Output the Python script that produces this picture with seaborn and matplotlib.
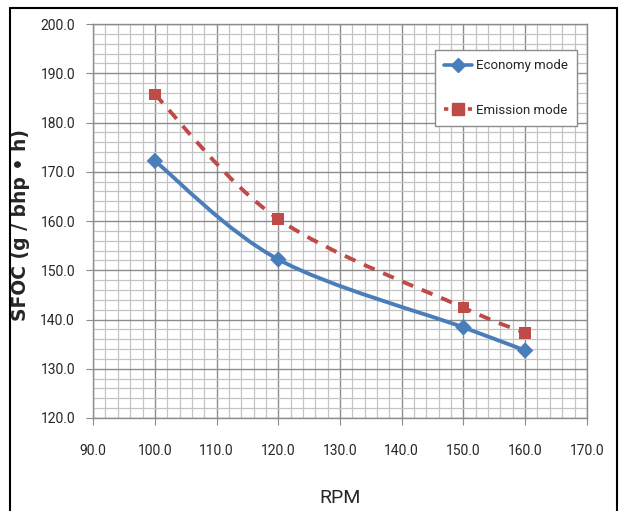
import numpy as np
import pandas as pd
import seaborn as sns
import matplotlib.pyplot as plt
from matplotlib.path import Path
from matplotlib.patches import PathPatch
from matplotlib.lines import Line2D
from matplotlib.ticker import MultipleLocator

rpm = [100, 120, 150, 160]
economy = [172.2, 152.2, 138.4, 133.7]
emission = [185.7, 160.4, 142.4, 137.3]
series_names = ["Economy mode", "Emission mode"]

BLUE = "#4a7ebb"
RED = "#be4b48"


def smooth_path(xs, ys):
    """Excel-style smoothed line: Catmull-Rom segments as cubic beziers."""
    pts = np.column_stack([xs, ys]).astype(float)
    ext = np.vstack([pts[0], pts, pts[-1]])
    verts = [tuple(pts[0])]
    codes = [Path.MOVETO]
    for i in range(1, len(ext) - 2):
        p0, p1, p2, p3 = ext[i - 1], ext[i], ext[i + 1], ext[i + 2]
        c1 = p1 + (p2 - p0) / 6
        c2 = p2 - (p3 - p1) / 6
        verts += [tuple(c1), tuple(c2), tuple(p2)]
        codes += [Path.CURVE4] * 3
    return Path(verts, codes)


df = pd.DataFrame({
    "RPM": rpm * 2,
    "SFOC": economy + emission,
    "mode": [series_names[0]] * len(rpm) + [series_names[1]] * len(rpm),
})

sns.set_style("white")
plt.rcParams["font.family"] = ["Roboto", "DejaVu Sans"]

fig = plt.figure(figsize=(6.21, 5.11), dpi=100)
ax = fig.add_axes([0.150, 0.182, 0.795, 0.771])

# smoothed lines
ax.add_patch(PathPatch(smooth_path(rpm, economy), facecolor="none",
                       edgecolor=BLUE, lw=2.8, zorder=3))
ax.add_patch(PathPatch(smooth_path(rpm, emission), facecolor="none",
                       edgecolor=RED, lw=2.8, linestyle=(0, (3, 2.4)), zorder=3))

# markers
sns.scatterplot(data=df, x="RPM", y="SFOC", hue="mode", style="mode",
                palette=[BLUE, RED], markers=["D", "s"], s=70,
                edgecolor="none", legend=False, ax=ax, zorder=4)

ax.set_xlim(90, 170)
ax.set_ylim(120, 200)
ax.xaxis.set_major_locator(MultipleLocator(10))
ax.yaxis.set_major_locator(MultipleLocator(10))
ax.xaxis.set_minor_locator(MultipleLocator(2))
ax.yaxis.set_minor_locator(MultipleLocator(2))
ax.xaxis.set_major_formatter(lambda v, p: f"{v:.1f}")
ax.yaxis.set_major_formatter(lambda v, p: f"{v:.1f}")
ax.grid(which="major", color="#8c8c8c", lw=1.0)
ax.grid(which="minor", color="#c4c4c4", lw=0.9)
ax.set_axisbelow(True)
for s in ax.spines.values():
    s.set_color("#8c8c8c")
    s.set_linewidth(1.0)

ax.tick_params(axis="x", which="major", direction="out", length=5,
               color="#8c8c8c", pad=14, labelsize=10, bottom=True)
ax.tick_params(axis="y", which="major", direction="out", length=5,
               color="#8c8c8c", pad=8, labelsize=10, left=True)
ax.tick_params(which="minor", length=0)

ax.set_xlabel("RPM", fontsize=14, labelpad=22)
ax.set_ylabel("SFOC (g / bhp • h)", fontsize=13.5, fontweight="bold",
              family=["DejaVu Sans"])
ax.yaxis.set_label_coords(-0.128, 0.49)

handles = [
    Line2D([], [], color=BLUE, lw=2.6, marker="D", markersize=7),
    Line2D([], [], color=RED, lw=2.6, linestyle=(0, (1.2, 1)), marker="s",
           markersize=8),
]
leg = ax.legend(handles, series_names, loc="upper right",
                bbox_to_anchor=(0.98, 0.934), fontsize=9.5, frameon=True,
                fancybox=False, edgecolor="#8c8c8c", framealpha=1,
                labelspacing=2.4, borderpad=0.7, borderaxespad=0,
                handlelength=2.1, handletextpad=0.3)
leg.get_frame().set_linewidth(1.0)

# outer frame around the picture (open at the bottom)
for xs, ys in [([0.016, 0.016], [0.0, 0.984]),
               ([0.016, 0.994], [0.984, 0.984]),
               ([0.994, 0.994], [0.0, 0.984])]:
    fig.add_artist(Line2D(xs, ys, color="black", lw=1.5,
                          transform=fig.transFigure))

fig.savefig("out.png", dpi=100)
